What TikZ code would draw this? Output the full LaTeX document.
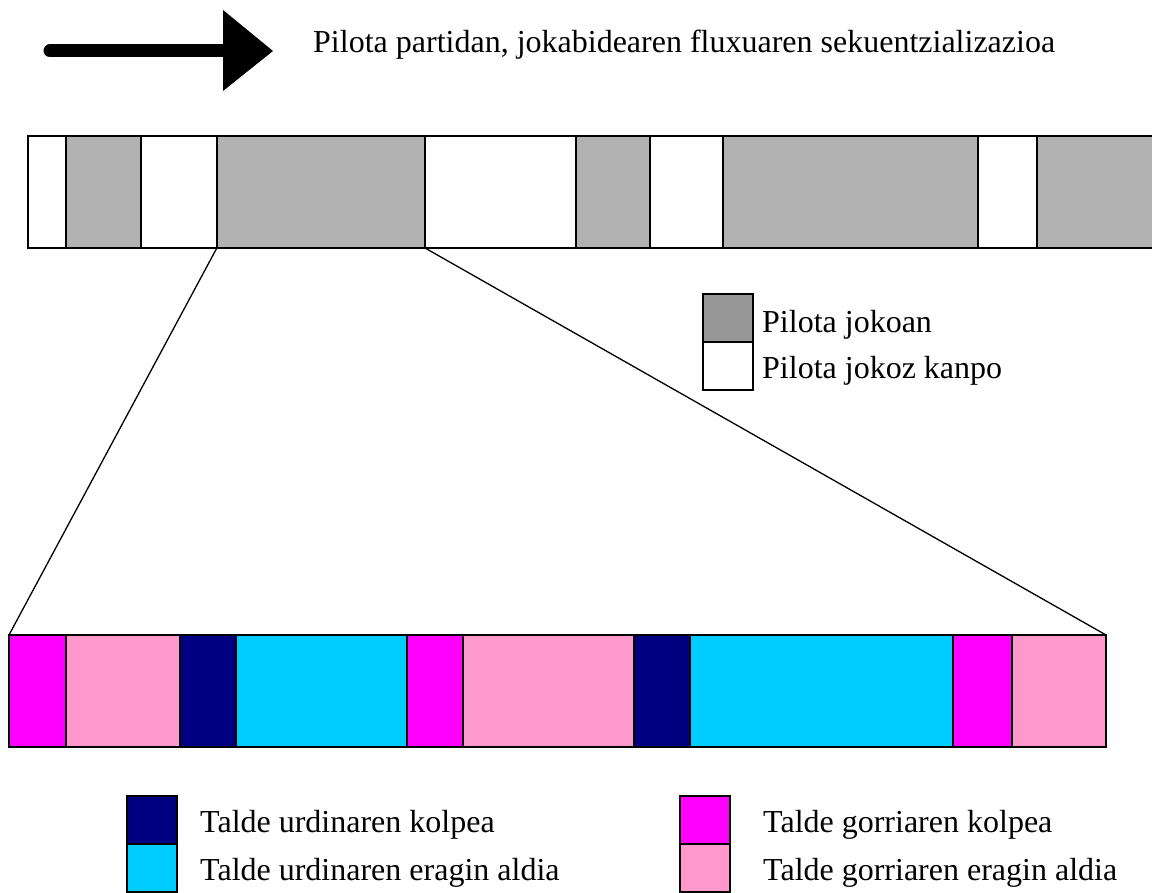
\documentclass[tikz,border=0pt]{standalone}
\usepackage{fontspec}
\setmainfont{Liberation Serif}
\definecolor{barGray}{HTML}{B2B2B2}
\definecolor{keyGray}{HTML}{969696}
\definecolor{redHit}{HTML}{FF00FF}
\definecolor{redSpan}{HTML}{FF99CC}
\definecolor{blueHit}{HTML}{000080}
\definecolor{blueSpan}{HTML}{00CCFF}
\tikzset{
  seg/.style={draw=black, line width=2pt, inner sep=0pt, outer sep=0pt,
    anchor=north west, minimum width=#1},
  topseg/.style={seg=#1, minimum height=112pt},
  lowseg/.style={seg=#1, minimum height=111.7pt},
  keybox/.style={draw=black, line width=1.5pt, inner sep=0pt, outer sep=0pt,
    anchor=north west, minimum width=50pt, minimum height=48pt},
  label/.style={inner sep=0pt, anchor=base west,
    font=\fontsize{32}{38}\selectfont},
  zoomline/.style={draw=black, line width=1.3pt}
}
\begin{document}
\begin{tikzpicture}[x=1pt, y=-1pt]
\useasboundingbox (0,0) rectangle (1152,893);

% direction arrow and title
\coordinate (tail) at (50,51);
\coordinate (neck) at (224,51);
\draw[line width=13pt, line cap=round] (tail) -- (neck);
\fill (223,10) -- (273,51) -- (223,91) -- cycle;
\node[label] (title) at (313,53) {Pilota partidan, jokabidearen fluxuaren sekuentzializazioa};

% upper bar: ball in play / out of play
\node[topseg=38pt,  fill=white]   (t1)  at (27.7,135.7)  {};
\node[topseg=75pt,  fill=barGray] (t2)  at (65.7,135.7)  {};
\node[topseg=76.3pt,fill=white]   (t3)  at (140.7,135.7) {};
\node[topseg=207.5pt,fill=barGray](t4)  at (217,135.7)   {};
\node[topseg=151.5pt,fill=white]  (t5)  at (424.5,135.7) {};
\node[topseg=74pt,  fill=barGray] (t6)  at (576,135.7)   {};
\node[topseg=72.7pt,fill=white]   (t7)  at (650,135.7)   {};
\node[topseg=255pt, fill=barGray] (t8)  at (722.7,135.7) {};
\node[topseg=59pt,  fill=white]   (t9)  at (977.7,135.7) {};
\node[topseg=116pt, fill=barGray] (t10) at (1036.7,135.7){};

% legend of the upper bar
\node[keybox, fill=keyGray] (kin)  at (703,294) {};
\node[keybox, fill=white]   (kout) at (703,342) {};
\node[label] (lin)  at (762,333) {Pilota jokoan};
\node[label] (lout) at (762,379) {Pilota jokoz kanpo};

% lower bar: detail of one play sequence
\node[lowseg=57pt,  fill=redHit]   (b1)  at (9,635)     {};
\node[lowseg=114pt, fill=redSpan]  (b2)  at (66,635)    {};
\node[lowseg=56pt,  fill=blueHit]  (b3)  at (180,635)   {};
\node[lowseg=171pt, fill=blueSpan] (b4)  at (236,635)   {};
\node[lowseg=55.7pt,fill=redHit]   (b5)  at (407,635)   {};
\node[lowseg=171.3pt,fill=redSpan] (b6)  at (462.7,635) {};
\node[lowseg=56pt,  fill=blueHit]  (b7)  at (634,635)   {};
\node[lowseg=262.7pt,fill=blueSpan](b8)  at (690,635)   {};
\node[lowseg=59.3pt,fill=redHit]   (b9)  at (952.7,635) {};
\node[lowseg=94pt,  fill=redSpan]  (b10) at (1012,635)  {};

% zoom lines from the upper segment to the lower bar
\draw[zoomline] (t4.south west) -- (b1.north west);
\draw[zoomline] (t4.south east) -- (b10.north east);

% legend of the lower bar
\node[keybox, fill=blueHit]  (kbh) at (127,796) {};
\node[keybox, fill=blueSpan] (kbs) at (127,844) {};
\node[label] (lbh) at (200,832) {Talde urdinaren kolpea};
\node[label] (lbs) at (200,880) {Talde urdinaren eragin aldia};
\node[keybox, fill=redHit]   (krh) at (680,796) {};
\node[keybox, fill=redSpan]  (krs) at (680,844) {};
\node[label] (lrh) at (763,832) {Talde gorriaren kolpea};
\node[label] (lrs) at (763,880) {Talde gorriaren eragin aldia};
\end{tikzpicture}
\end{document}
